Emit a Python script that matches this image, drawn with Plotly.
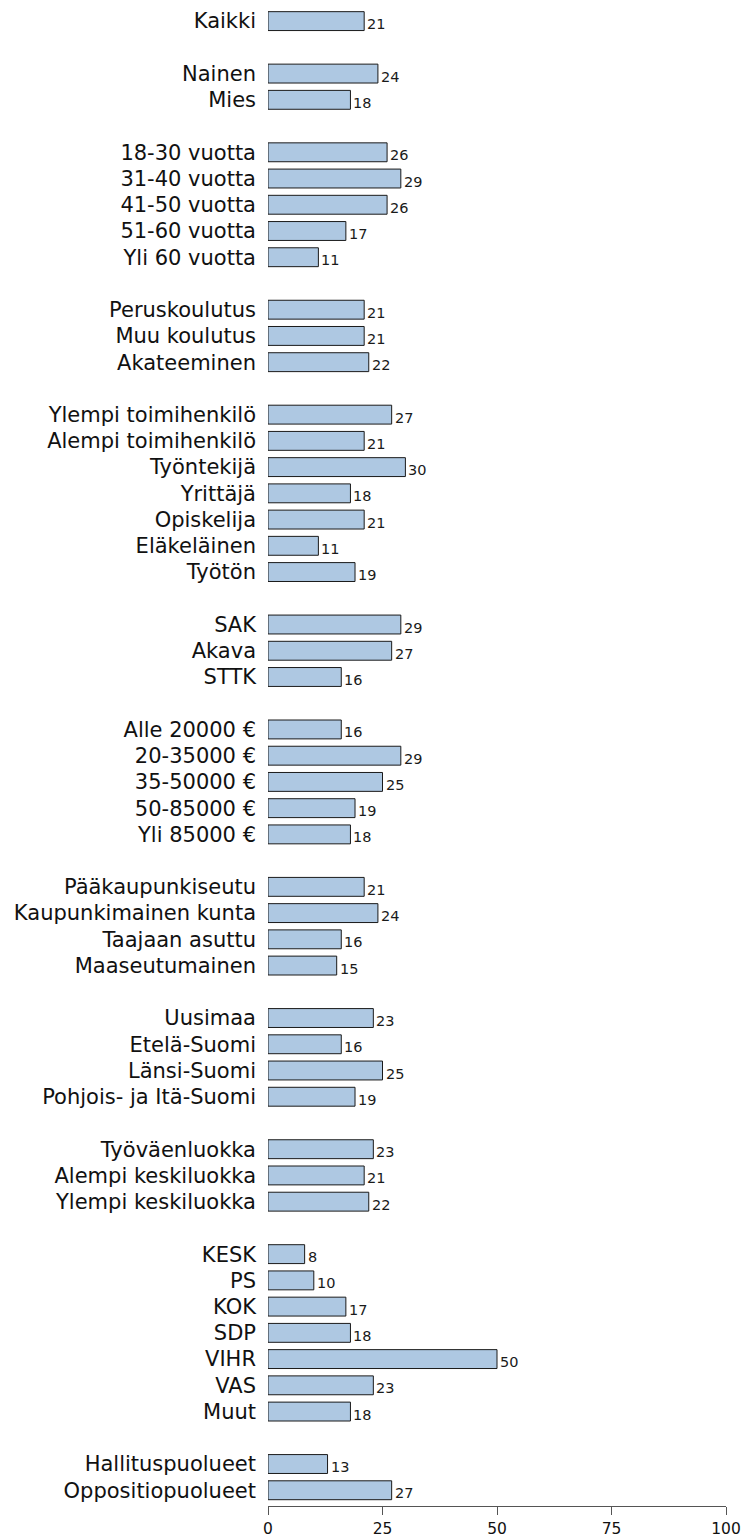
import plotly.graph_objects as go

kaikki_labels = ["Kaikki"]
kaikki_values = [21]
sukupuoli_labels = ["Nainen", "Mies"]
sukupuoli_values = [24, 18]
ika_labels = ["18-30 vuotta", "31-40 vuotta", "41-50 vuotta", "51-60 vuotta", "Yli 60 vuotta"]
ika_values = [26, 29, 26, 17, 11]
koulutus_labels = ["Peruskoulutus", "Muu koulutus", "Akateeminen"]
koulutus_values = [21, 21, 22]
ammatti_labels = ["Ylempi toimihenkilö", "Alempi toimihenkilö", "Työntekijä", "Yrittäjä",
                  "Opiskelija", "Eläkeläinen", "Työtön"]
ammatti_values = [27, 21, 30, 18, 21, 11, 19]
liitto_labels = ["SAK", "Akava", "STTK"]
liitto_values = [29, 27, 16]
tulot_labels = ["Alle 20000 €", "20-35000 €", "35-50000 €", "50-85000 €", "Yli 85000 €"]
tulot_values = [16, 29, 25, 19, 18]
asuinalue_labels = ["Pääkaupunkiseutu", "Kaupunkimainen kunta", "Taajaan asuttu", "Maaseutumainen"]
asuinalue_values = [21, 24, 16, 15]
alue_labels = ["Uusimaa", "Etelä-Suomi", "Länsi-Suomi", "Pohjois- ja Itä-Suomi"]
alue_values = [23, 16, 25, 19]
luokka_labels = ["Työväenluokka", "Alempi keskiluokka", "Ylempi keskiluokka"]
luokka_values = [23, 21, 22]
puolue_labels = ["KESK", "PS", "KOK", "SDP", "VIHR", "VAS", "Muut"]
puolue_values = [8, 10, 17, 18, 50, 23, 18]
hallitus_labels = ["Hallituspuolueet", "Oppositiopuolueet"]
hallitus_values = [13, 27]
x_ticks = [0, 25, 50, 75, 100]

groups = [
    (kaikki_labels, kaikki_values),
    (sukupuoli_labels, sukupuoli_values),
    (ika_labels, ika_values),
    (koulutus_labels, koulutus_values),
    (ammatti_labels, ammatti_values),
    (liitto_labels, liitto_values),
    (tulot_labels, tulot_values),
    (asuinalue_labels, asuinalue_values),
    (alue_labels, alue_values),
    (luokka_labels, luokka_values),
    (puolue_labels, puolue_values),
    (hallitus_labels, hallitus_values),
]

labels, values, pos = [], [], []
row = 0
for gl, gv in groups:
    for l, v in zip(gl, gv):
        labels.append(l)
        values.append(v)
        pos.append(row)
        row += 1
    row += 1  # blank row between groups
last_row = pos[-1]

FONT = "DejaVu Sans, Arial, sans-serif"

fig = go.Figure(go.Bar(
    x=values, y=pos, orientation="h", width=0.72,
    marker=dict(color="#AEC8E2", line=dict(color="#1a1a1a", width=1)),
    hoverinfo="x+y",
))

for v, p in zip(values, pos):
    fig.add_annotation(x=v, y=p, text=str(v), showarrow=False, xanchor="left",
                       yanchor="middle", xshift=1, yshift=-3,
                       font=dict(family=FONT, size=14.5, color="#1a1a1a"))

fig.update_layout(
    width=744, height=1539, autosize=False,
    margin=dict(l=268, r=18, t=8, b=33),
    paper_bgcolor="white", plot_bgcolor="white",
    showlegend=False,
    font=dict(family=FONT, color="#111111"),
    xaxis=dict(range=[0, 100], tickvals=x_ticks, showgrid=False, automargin=False,
               zeroline=False, showline=True, linecolor="#555555", linewidth=1,
               ticks="outside", ticklen=8, tickcolor="#555555",
               ticklabeloverflow="allow",
               tickfont=dict(family=FONT, size=15.5, color="#111111"), fixedrange=True),
    yaxis=dict(range=[last_row + 0.6, -0.5], tickvals=pos, ticktext=labels,
               showgrid=False, zeroline=False, showline=False, ticks="", automargin=False,
               ticklabelstandoff=11,
               tickfont=dict(family=FONT, size=21, color="#111111"), fixedrange=True),
)

fig.write_html("out.html",
               config={"displayModeBar": False, "responsive": False},
               post_script="document.body.style.margin='0';")
